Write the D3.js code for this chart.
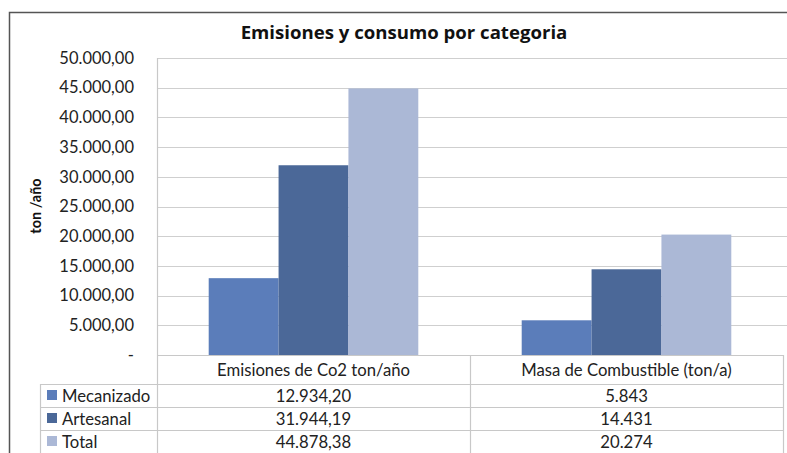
<!DOCTYPE html>
<html><head><meta charset="utf-8">
<script src="https://cdn.jsdelivr.net/npm/d3@7"></script>
<style>html,body{margin:0;padding:0;background:#fff;}svg{display:block;}</style>
</head><body>
<svg id="c" width="787" height="453"></svg>
<script>
const categories = ["Emisiones de Co2 ton/año", "Masa de Combustible (ton/a)"];
const seriesNames = ["Mecanizado", "Artesanal", "Total"];
const mecanizado = [12934.20, 5843];
const artesanal = [31944.19, 14431];
const total = [44878.38, 20274];
const tableLabels = [["12.934,20", "5.843"], ["31.944,19", "14.431"], ["44.878,38", "20.274"]];
const colors = ["#5b7dba", "#4b6898", "#abb8d6"];
const yTicks = [0,5000,10000,15000,20000,25000,30000,35000,40000,45000,50000];

const values = [mecanizado, artesanal, total];
const FONT = "Lato, 'Open Sans', sans-serif";
const svg = d3.select("#c");
const L = 157, R = 783, T = 58, B = 355;

const x0 = d3.scaleBand().domain(categories).range([L, R]);
const x1 = d3.scaleBand().domain(seriesNames).range([0, x0.bandwidth()]).paddingInner(0).paddingOuter(0.74);
const y = d3.scaleLinear().domain([0, 50000]).range([B, T]);

// frame
svg.append("path").attr("d", "M9.5,453 V12.5 H787").attr("fill","none").attr("stroke","#555").attr("stroke-width",1.5);

// title
svg.append("text").attr("x", 404).attr("y", 39).attr("text-anchor","middle")
  .attr("font-family", "'Open Sans', sans-serif").attr("font-weight","bold").attr("font-size", 18.6).attr("fill","#111")
  .text("Emisiones y consumo por categoria");

// gridlines
const fmt = v => v === 0 ? "-" : d3.formatLocale({decimal:",", thousands:".", grouping:[3], currency:["",""]}).format(",.2f")(v);
svg.append("g").selectAll("line").data(yTicks.filter(d=>d>0)).join("line")
  .attr("x1", L).attr("x2", 787).attr("y1", d=>Math.round(y(d))+0.5).attr("y2", d=>Math.round(y(d))+0.5)
  .attr("stroke","#cfcfcf").attr("stroke-width",1.2);

// y axis labels
const ya = d3.axisLeft(y).tickValues(yTicks).tickFormat(fmt).tickSize(0).tickPadding(23);
const yg = svg.append("g").attr("transform", `translate(${L},0)`).call(ya);
yg.select(".domain").remove();
yg.selectAll("text").attr("font-family", FONT).attr("font-size", 16.5).attr("fill","#222");

// y title
svg.append("text").attr("transform","translate(41,206) rotate(-90)").attr("text-anchor","middle")
  .attr("font-family", FONT).attr("font-weight","bold").attr("font-size", 14.5).attr("fill","#111").text("ton /año");

// bars
const g = svg.append("g");
seriesNames.forEach((s, si) => {
  g.selectAll(null).data(categories).join("rect")
    .attr("x", c => x0(c) + x1(s)).attr("width", x1.bandwidth())
    .attr("y", (c, ci) => y(values[si][ci])).attr("height", (c, ci) => B - y(values[si][ci]))
    .attr("fill", colors[si]);
});

// table lines
const lc = "#c8c8c8";
const rowY = [B, 384, 407, 430, 453];
const tl = svg.append("g").attr("stroke", lc).attr("stroke-width", 1.2);
tl.append("line").attr("x1", L).attr("x2", R).attr("y1", B+0.5).attr("y2", B+0.5);
[384, 407, 430].forEach(yy => tl.append("line").attr("x1", 40).attr("x2", R).attr("y1", yy+0.5).attr("y2", yy+0.5));
tl.append("line").attr("x1", L+0.5).attr("x2", L+0.5).attr("y1", T).attr("y2", 453);
tl.append("line").attr("x1", 40.5).attr("x2", 40.5).attr("y1", 384).attr("y2", 453);
categories.forEach(c => tl.append("line").attr("x1", x0(c)+x0.bandwidth()+0.5).attr("x2", x0(c)+x0.bandwidth()+0.5).attr("y1", B).attr("y2", 453));

// header
svg.append("g").selectAll("text").data(categories).join("text")
  .attr("x", c => x0(c) + x0.bandwidth()/2).attr("y", 376).attr("text-anchor","middle")
  .attr("font-family", FONT).attr("font-size", 16.7).attr("fill","#222").text(c => c);

// rows
seriesNames.forEach((s, si) => {
  const ty = (rowY[si+1] + rowY[si+2]) / 2 + 6;
  svg.append("rect").attr("x", 47).attr("y", ty - 11.5).attr("width", 10).attr("height", 10).attr("fill", colors[si]);
  svg.append("text").attr("x", 62).attr("y", ty).attr("font-family", FONT).attr("font-size", 16.7).attr("fill","#222").text(s);
  categories.forEach((c, ci) => {
    svg.append("text").attr("x", x0(c) + x0.bandwidth()/2).attr("y", ty).attr("text-anchor","middle")
      .attr("font-family", FONT).attr("font-size", 16.7).attr("fill","#222").text(tableLabels[si][ci]);
  });
});
</script>
</body></html>
